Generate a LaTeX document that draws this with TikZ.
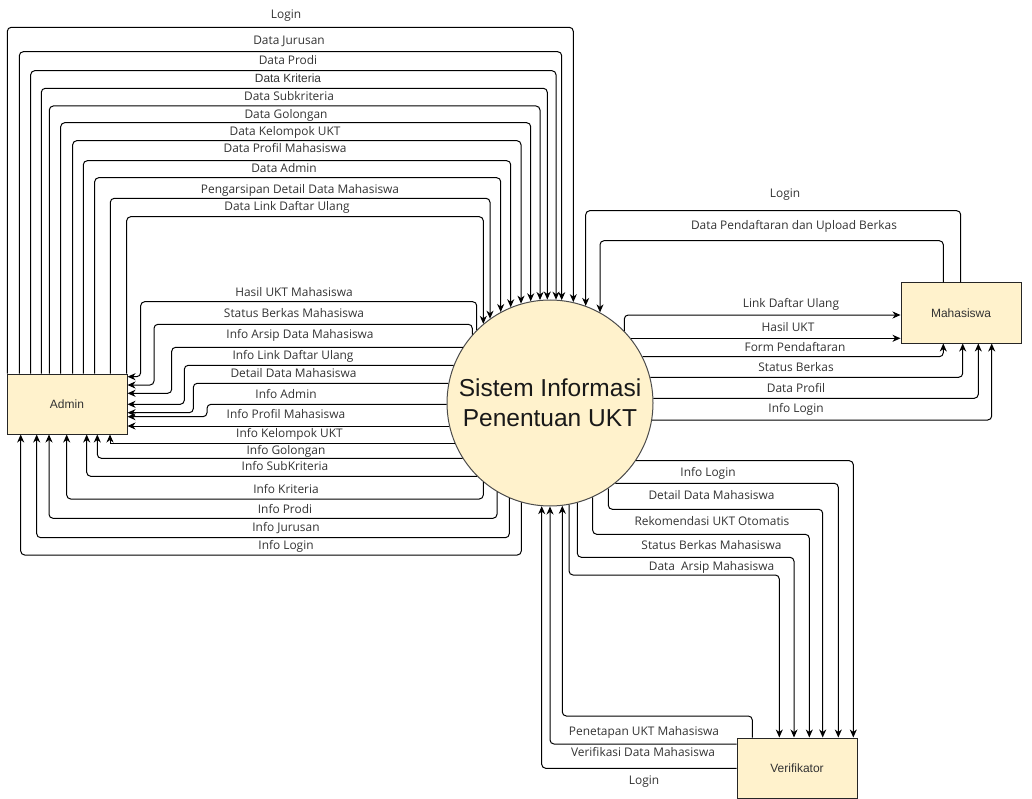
\documentclass[tikz,border=0pt]{standalone}
\usepackage{fontspec}
\setmainfont{Open Sans}
\newfontfamily\arialf{Liberation Sans}
\usetikzlibrary{arrows.meta,calc}
\definecolor{boxfill}{HTML}{FFF2CC}
\definecolor{txt}{HTML}{333333}
\tikzset{
 flow/.style={draw=black, line width=1pt, rounded corners=4pt, -{Stealth[length=8pt,width=7pt,inset=2.5pt]}},
 lbl/.style={font=\fontsize{11.9}{14}\selectfont, text=txt, inner sep=0pt, text height=8.6pt, text depth=2.7pt, yshift=-1.5pt},
 entity/.style={draw=black!85, fill=boxfill, line width=1pt, minimum width=120pt, minimum height=60pt, inner sep=0pt, font=\arialf\fontsize{12}{14}\selectfont, text=txt},
 proc/.style={circle, draw=black!70, fill=boxfill, line width=1pt, minimum size=206pt, inner sep=0pt, align=center, font=\arialf\fontsize{24.5}{30}\selectfont, text=black!90},
}
\begin{document}
\begin{tikzpicture}[x=1pt,y=-1pt]
\useasboundingbox (0,0) rectangle (1032,799);
% ---------- nodes
\node[entity] (admin) at (67,404) {Admin};
\node[entity] (mhs) at (961,313) {Mahasiswa};
\node[entity] (ver) at (797,768) {Verifikator};
\node[proc] (c) at (550,403) {Sistem Informasi\\Penentuan UKT};
% ---------- boundary points of the circle
\foreach \n/\d in {T1/23.3,T2/11.7,T3/6,T4/-2.7,T5/-10,T6/-19.3,T7/-29,T8/-39.3,T9/-49.3,T10/-60,T11/-66.7,TM1/35.7,TM2/50,TLD/74.3,THU/-73.3,TSB/-77.7}
  \coordinate (\n) at ($(c.center)+(\d,{-sqrt(103.5*103.5-(\d)*(\d))})$);
\foreach \n/\d in {BK/-66.7,BP/-53,BJ/-40.7,BL/-28.7,BV1/58.3,BV2/42.7,BV3/27.3,BV4/19,BU1/12.3,BU2/0,BU3/-8.3}
  \coordinate (\n) at ($(c.center)+(\d,{sqrt(103.5*103.5-(\d)*(\d))})$);
\foreach \n/\d in {L3/-55.7,L4/-37.7,L5/-19.7,L6/1.3,L7/23,L8/40.3,L9/55.3,L10/73.3}
  \coordinate (\n) at ($(c.center)+({-sqrt(103.5*103.5-(\d)*(\d))},\d)$);
\foreach \n/\d in {R1/-64.7,R2/-46.3,R3/-25.7,R4/-4.7,R5/17,RV1/57.7,RV2/80.3}
  \coordinate (\n) at ($(c.center)+({sqrt(103.5*103.5-(\d)*(\d))},\d)$);
% ---------- points on the boxes
\foreach \n/\x in {A1/7.3,A2/19.3,A3/30.7,A4/41.3,A5/49.3,A6/60.7,A7/72.7,A8/83.3,A9/94.7,A10/110.3,A11/126.7}
  \coordinate (\n) at ($(admin.north west)+({\x-6.5},0)$);
\foreach \n/\y in {E1/376.7,E2/385,E3/393.3,E4/404.3,E5/412.7,E6/416.7,E7/426}
  \coordinate (\n) at ($(admin.north east)+(0,{\y-373.5})$);
\foreach \n/\x in {S8/110,S9/97.3,S10/86.7,S11/66.7,S12/49,S13/36.7,S14/20.7}
  \coordinate (\n) at ($(admin.south west)+({\x-6.5},0)$);
\foreach \n/\x in {MT1/960.7,MT2/943.3}
  \coordinate (\n) at ($(mhs.north west)+({\x-900.5},0)$);
\foreach \n/\y in {ML1/315,ML2/338.3}
  \coordinate (\n) at ($(mhs.north west)+(0,{\y-282.5})$);
\foreach \n/\x in {MB1/943.3,MB2/962.7,MB3/978.3,MB4/991.7}
  \coordinate (\n) at ($(mhs.south west)+({\x-900.5},0)$);
\foreach \n/\x in {VT1/853.3,VT2/838.3,VT3/822.7,VT4/809.3,VT5/794,VT6/779.3,VT7/752.3}
  \coordinate (\n) at ($(ver.north west)+({\x-736.5},0)$);
\foreach \n/\y in {VL1/744,VL2/768.3}
  \coordinate (\n) at ($(ver.north west)+(0,{\y-737.5})$);
% ---------- Admin -> system (top)
\draw[flow] (A1) -- (7.3,27.3) -- (573.3,27.3) -- (T1);
\draw[flow] (A2) -- (19.3,51.7) -- (561.7,51.7) -- (T2);
\draw[flow] (A3) -- (30.7,70.7) -- (556,70.7) -- (T3);
\draw[flow] (A4) -- (41.3,88.3) -- (547.3,88.3) -- (T4);
\draw[flow] (A5) -- (49.3,106) -- (540,106) -- (T5);
\draw[flow] (A6) -- (60.7,122.7) -- (530.7,122.7) -- (T6);
\draw[flow] (A7) -- (72.7,140.7) -- (521,140.7) -- (T7);
\draw[flow] (A8) -- (83.3,160.7) -- (510.7,160.7) -- (T8);
\draw[flow] (A9) -- (94.7,177.7) -- (500.7,177.7) -- (T9);
\draw[flow] (A10) -- (110.3,198.3) -- (490,198.3) -- (T10);
\draw[flow] (A11) -- (126.7,216.7) -- (483.3,216.7) -- (T11);
% ---------- system -> Admin (right side)
\draw[flow] (THU) -- (476.7,301.7) -- (140.7,301.7) -- (140.7,376.7) -- (E1);
\draw[flow] (TSB) -- (472.3,324.3) -- (154,324.3) -- (154,385) -- (E2);
\draw[flow] (L3) -- (171.7,347.3) -- (171.7,393.3) -- (E3);
\draw[flow] (L4) -- (184.3,365.3) -- (184.3,404.3) -- (E4);
\draw[flow] (L5) -- (193.3,383.3) -- (193.3,412.7) -- (E5);
\draw[flow] (L6) -- (207,404.3) -- (207,416.7) -- (E6);
\draw[flow] (L7) -- (E7);
% ---------- system -> Admin (bottom)
\draw[flow,rounded corners=0pt] (L8) -- (110,443.3) -- (S8);
\draw[flow] (L9) -- (97.3,458.3) -- (S9);
\draw[flow] (L10) -- (86.7,476.3) -- (S10);
\draw[flow] (BK) -- (483.3,499) -- (66.7,499) -- (S11);
\draw[flow] (BP) -- (497,518.3) -- (49,518.3) -- (S12);
\draw[flow] (BJ) -- (509.3,537.7) -- (36.7,537.7) -- (S13);
\draw[flow] (BL) -- (521.3,555) -- (20.7,555) -- (S14);
% ---------- Mahasiswa
\draw[flow] (MT1) -- (960.7,210.7) -- (585.7,210.7) -- (TM1);
\draw[flow] (MT2) -- (943.3,240.7) -- (600,240.7) -- (TM2);
\draw[flow] (TLD) -- (624.3,315) -- (ML1);
\draw[flow] (R1) -- (ML2);
\draw[flow] (R2) -- (943.3,356.7) -- (MB1);
\draw[flow] (R3) -- (962.7,377.3) -- (MB2);
\draw[flow] (R4) -- (978.3,398.3) -- (MB3);
\draw[flow] (R5) -- (991.7,420) -- (MB4);
% ---------- Verifikator
\draw[flow] (RV1) -- (853.3,460.7) -- (VT1);
\draw[flow] (RV2) -- (838.3,483.3) -- (VT2);
\draw[flow] (BV1) -- (608.3,509.3) -- (822.7,509.3) -- (VT3);
\draw[flow] (BV2) -- (592.7,534.3) -- (809.3,534.3) -- (VT4);
\draw[flow] (BV3) -- (577.3,557.3) -- (794,557.3) -- (VT5);
\draw[flow] (BV4) -- (569,575) -- (779.3,575) -- (VT6);
\draw[flow] (VT7) -- (752.3,716) -- (562.3,716) -- (BU1);
\draw[flow] (VL1) -- (550,744) -- (BU2);
\draw[flow] (VL2) -- (541.7,768.3) -- (BU3);
% ---------- labels
\node[lbl] (la1) at (286,14) {Login};
\node[lbl] (la2) at (289,40) {Data Jurusan};
\node[lbl] (la3) at (288,60) {Data Prodi};
\node[lbl,font=\arialf\fontsize{11.9}{14}\selectfont] (la4) at (288,78) {Data Kriteria};
\node[lbl] (la5) at (289,96) {Data Subkriteria};
\node[lbl] (la6) at (286,114) {Data Golongan};
\node[lbl] (la7) at (285,131) {Data Kelompok UKT};
\node[lbl] (la8) at (285,148) {Data Profil Mahasiswa};
\node[lbl] (la9) at (284,168) {Data Admin};
\node[lbl] (la10) at (300,189) {Pengarsipan Detail Data Mahasiswa};
\node[lbl] (la11) at (287,206) {Data Link Daftar Ulang};
\node[lbl] (lb1) at (294,292) {Hasil UKT Mahasiswa};
\node[lbl] (lb2) at (294,313) {Status Berkas Mahasiswa};
\node[lbl] (lb3) at (300,334.5) {Info Arsip Data Mahasiswa};
\node[lbl] (lb4) at (293,355.5) {Info Link Daftar Ulang};
\node[lbl] (lb5) at (293.5,373.5) {Detail Data Mahasiswa};
\node[lbl] (lb6) at (286,394) {Info Admin};
\node[lbl] (lb7) at (286,414.5) {Info Profil Mahasiswa};
\node[lbl] (lb8) at (289.5,433.5) {Info Kelompok UKT};
\node[lbl] (lb9) at (286,450.5) {Info Golongan};
\node[lbl] (lb10) at (285,466.5) {Info SubKriteria};
\node[lbl] (lb11) at (286,489) {Info Kriteria};
\node[lbl] (lb12) at (285,509.5) {Info Prodi};
\node[lbl] (lb13) at (286,527) {Info Jurusan};
\node[lbl] (lb14) at (286,545) {Info Login};
\node[lbl] (lm1) at (785,193) {Login};
\node[lbl] (lm2) at (794,225) {Data Pendaftaran dan Upload Berkas};
\node[lbl] (lm3) at (791,303) {Link Daftar Ulang};
\node[lbl] (lm4) at (788,327) {Hasil UKT};
\node[lbl] (lm5) at (795,347) {Form Pendaftaran};
\node[lbl] (lm6) at (796,367) {Status Berkas};
\node[lbl] (lm7) at (796,388) {Data Profil};
\node[lbl] (lm8) at (796,408.5) {Info Login};
\node[lbl] (lv1) at (708,472) {Info Login};
\node[lbl] (lv2) at (711.5,495) {Detail Data Mahasiswa};
\node[lbl] (lv3) at (712,521.5) {Rekomendasi UKT Otomatis};
\node[lbl] (lv4) at (711.5,545) {Status Berkas Mahasiswa};
\node[lbl] (lv5) at (711.5,566) {Data\ \ Arsip Mahasiswa};
\node[lbl] (lv6) at (644,731) {Penetapan UKT Mahasiswa};
\node[lbl] (lv7) at (643,752) {Verifikasi Data Mahasiswa};
\node[lbl] (lv8) at (644,780) {Login};
\end{tikzpicture}
\end{document}
